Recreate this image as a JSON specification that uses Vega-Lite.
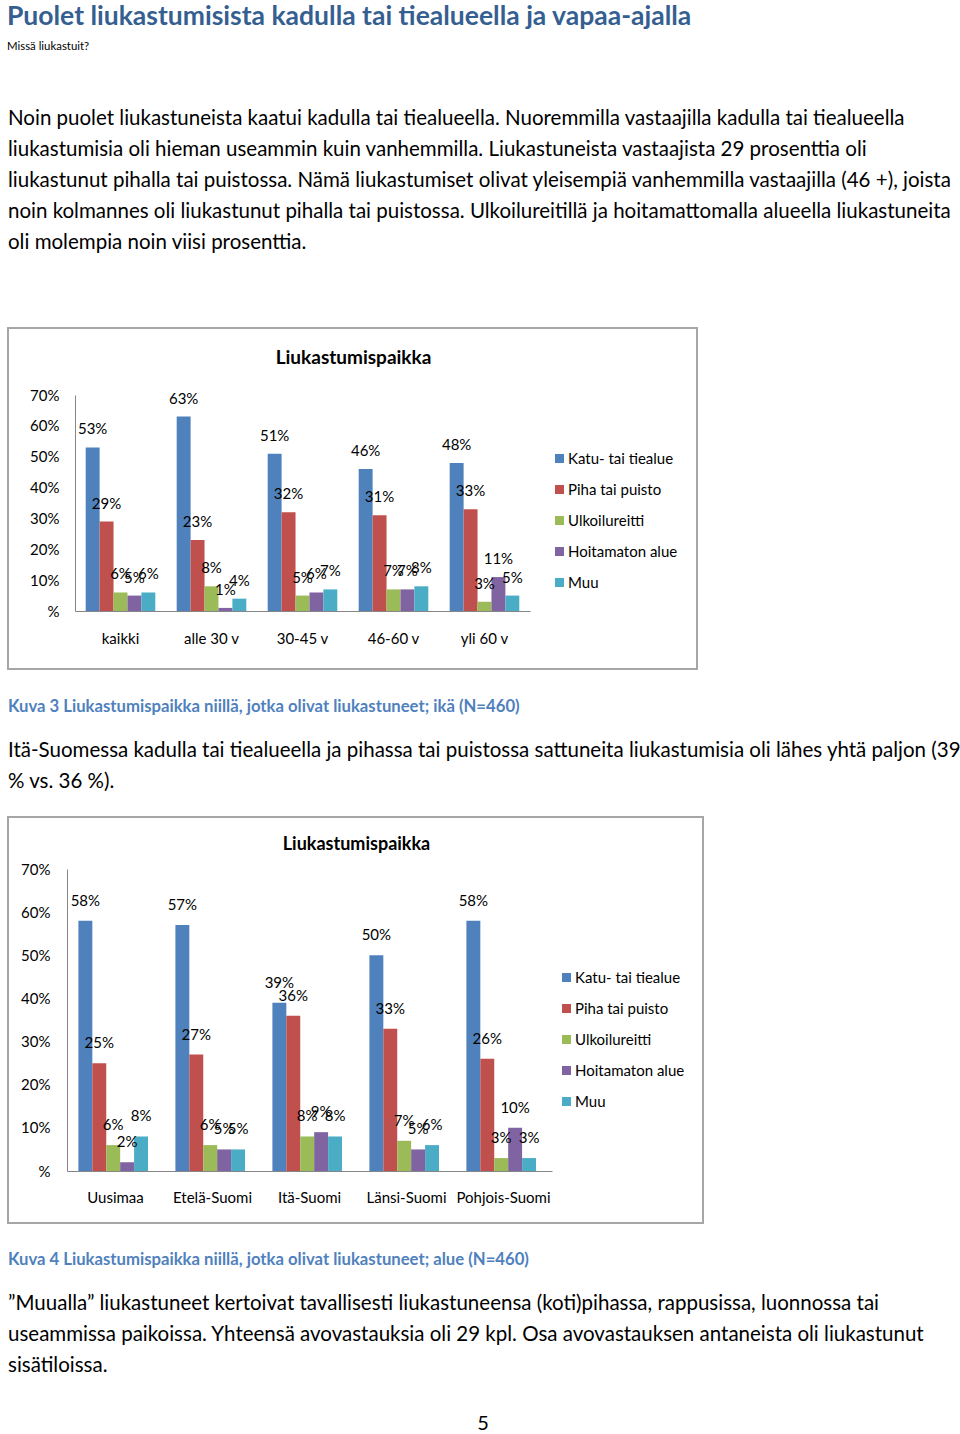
{
  "$schema": "https://vega.github.io/schema/vega-lite/v6.json",
  "background": "white",
  "padding": {"left": 7, "top": 3, "right": 0, "bottom": 0},
  "title": {
    "text": "Puolet liukastumisista kadulla tai tiealueella ja vapaa-ajalla",
    "subtitle": "Missä liukastuit?",
    "anchor": "start",
    "font": "Lato",
    "fontSize": 26.5,
    "fontWeight": "bold",
    "color": "#365F91",
    "subtitleFont": "Lato",
    "subtitleFontSize": 11.4,
    "subtitleColor": "#000000",
    "subtitlePadding": 11,
    "offset": 55
  },
  "config": {
    "view": {"stroke": "#a6a6a6", "strokeWidth": 2},
    "font": "Lato",
    "axis": {"labelFont": "Lato", "labelColor": "#000000", "grid": false, "ticks": false, "domainColor": "#868686", "labelFontSize": 15},
    "legend": {"labelFont": "Lato", "labelFontSize": 15, "labelColor": "#000000"},
    "text": {"font": "Lato"}
  },
  "resolve": {"scale": {"color": "independent"}, "legend": {"color": "independent"}},
  "spacing": 27,
  "vconcat": [
    {
      "title": {
        "text": [
          "Noin puolet liukastuneista kaatui kadulla tai tiealueella. Nuoremmilla vastaajilla kadulla tai tiealueella",
          "liukastumisia oli hieman useammin kuin vanhemmilla. Liukastuneista vastaajista 29 prosenttia oli",
          "liukastunut pihalla tai puistossa. Nämä liukastumiset olivat yleisempiä vanhemmilla vastaajilla (46 +), joista",
          "noin kolmannes oli liukastunut pihalla tai puistossa. Ulkoilureitillä ja hoitamattomalla alueella liukastuneita",
          "oli molempia noin viisi prosenttia."
        ],
        "anchor": "start",
        "font": "Lato",
        "fontSize": 20.5,
        "fontWeight": "normal",
        "color": "#000000",
        "lineHeight": 31,
        "offset": 75
      },
      "width": 689,
      "height": 341,
      "data": {"values": [
        {"ryhma": "kaikki", "paikka": "Katu- tai tiealue", "osuus": 0.53},
        {"ryhma": "kaikki", "paikka": "Piha tai puisto", "osuus": 0.29},
        {"ryhma": "kaikki", "paikka": "Ulkoilureitti", "osuus": 0.06},
        {"ryhma": "kaikki", "paikka": "Hoitamaton alue", "osuus": 0.05},
        {"ryhma": "kaikki", "paikka": "Muu", "osuus": 0.06},
        {"ryhma": "alle 30 v", "paikka": "Katu- tai tiealue", "osuus": 0.63},
        {"ryhma": "alle 30 v", "paikka": "Piha tai puisto", "osuus": 0.23},
        {"ryhma": "alle 30 v", "paikka": "Ulkoilureitti", "osuus": 0.08},
        {"ryhma": "alle 30 v", "paikka": "Hoitamaton alue", "osuus": 0.01},
        {"ryhma": "alle 30 v", "paikka": "Muu", "osuus": 0.04},
        {"ryhma": "30-45 v", "paikka": "Katu- tai tiealue", "osuus": 0.51},
        {"ryhma": "30-45 v", "paikka": "Piha tai puisto", "osuus": 0.32},
        {"ryhma": "30-45 v", "paikka": "Ulkoilureitti", "osuus": 0.05},
        {"ryhma": "30-45 v", "paikka": "Hoitamaton alue", "osuus": 0.06},
        {"ryhma": "30-45 v", "paikka": "Muu", "osuus": 0.07},
        {"ryhma": "46-60 v", "paikka": "Katu- tai tiealue", "osuus": 0.46},
        {"ryhma": "46-60 v", "paikka": "Piha tai puisto", "osuus": 0.31},
        {"ryhma": "46-60 v", "paikka": "Ulkoilureitti", "osuus": 0.07},
        {"ryhma": "46-60 v", "paikka": "Hoitamaton alue", "osuus": 0.07},
        {"ryhma": "46-60 v", "paikka": "Muu", "osuus": 0.08},
        {"ryhma": "yli 60 v", "paikka": "Katu- tai tiealue", "osuus": 0.48},
        {"ryhma": "yli 60 v", "paikka": "Piha tai puisto", "osuus": 0.33},
        {"ryhma": "yli 60 v", "paikka": "Ulkoilureitti", "osuus": 0.03},
        {"ryhma": "yli 60 v", "paikka": "Hoitamaton alue", "osuus": 0.11},
        {"ryhma": "yli 60 v", "paikka": "Muu", "osuus": 0.05}
      ]},
      "encoding": {
        "x": {
          "field": "ryhma", "type": "nominal",
          "sort": ["kaikki", "alle 30 v", "30-45 v", "46-60 v", "yli 60 v"],
          "scale": {"range": [67, 522], "paddingInner": 0.235, "paddingOuter": 0.1175},
          "axis": {"title": null, "orient": "bottom", "offset": -58, "labelPadding": 20, "labelAngle": 0}
        },
        "xOffset": {
          "field": "paikka", "type": "nominal",
          "sort": ["Katu- tai tiealue", "Piha tai puisto", "Ulkoilureitti", "Hoitamaton alue", "Muu"],
          "scale": {"paddingInner": 0, "paddingOuter": 0}
        },
        "y": {
          "field": "osuus", "type": "quantitative",
          "scale": {"domain": [0, 0.7], "range": [283, 67], "nice": false, "zero": true},
          "axis": {
            "title": "Liukastumispaikka", "titleAngle": 0, "titleX": 278, "titleY": 29,
            "titleBaseline": "middle", "titleAlign": "center", "titleFontSize": 19, "titleFontWeight": "bold", "titleFont": "Lato", "titleColor": "#000000",
            "offset": -67, "labelPadding": 16,
            "values": [0, 0.1, 0.2, 0.3, 0.4, 0.5, 0.6, 0.7],
            "labelExpr": "datum.value === 0 ? '%' : format(datum.value, '.0%')"
          }
        }
      },
      "layer": [
        {
          "mark": {"type": "bar"},
          "encoding": {
            "color": {
              "field": "paikka", "type": "nominal",
              "scale": {
                "domain": ["Katu- tai tiealue", "Piha tai puisto", "Ulkoilureitti", "Hoitamaton alue", "Muu"],
                "range": ["#4F81BD", "#C0504D", "#9BBB59", "#8064A2", "#4BACC6"]
              },
              "legend": {"title": null, "orient": "none", "legendX": 544, "legendY": 123, "symbolType": "square", "symbolSize": 81, "symbolStrokeWidth": 0, "rowPadding": 15, "labelOffset": 1, "padding": 0}
            }
          }
        },
        {
          "mark": {"type": "text", "baseline": "middle", "dy": -18, "fontSize": 15, "color": "#000000"},
          "encoding": {"text": {"field": "osuus", "type": "quantitative", "format": ".0%"}}
        }
      ]
    },
    {
      "title": {
        "text": "Kuva 3 Liukastumispaikka niillä, jotka olivat liukastuneet; ikä (N=460)",
        "subtitle": [
          "Itä-Suomessa kadulla tai tiealueella ja pihassa tai puistossa sattuneita liukastumisia oli lähes yhtä paljon (39",
          "% vs. 36 %)."
        ],
        "anchor": "start",
        "font": "Lato",
        "fontSize": 16.7,
        "fontWeight": "bold",
        "color": "#4F81BD",
        "subtitleFont": "Lato",
        "subtitleFontSize": 20.5,
        "subtitleColor": "#000000",
        "subtitleLineHeight": 31,
        "subtitlePadding": 25,
        "offset": 25
      },
      "width": 695,
      "height": 406,
      "data": {"values": [
        {"alue": "Uusimaa", "paikka": "Katu- tai tiealue", "osuus": 0.58},
        {"alue": "Uusimaa", "paikka": "Piha tai puisto", "osuus": 0.25},
        {"alue": "Uusimaa", "paikka": "Ulkoilureitti", "osuus": 0.06},
        {"alue": "Uusimaa", "paikka": "Hoitamaton alue", "osuus": 0.02},
        {"alue": "Uusimaa", "paikka": "Muu", "osuus": 0.08},
        {"alue": "Etelä-Suomi", "paikka": "Katu- tai tiealue", "osuus": 0.57},
        {"alue": "Etelä-Suomi", "paikka": "Piha tai puisto", "osuus": 0.27},
        {"alue": "Etelä-Suomi", "paikka": "Ulkoilureitti", "osuus": 0.06},
        {"alue": "Etelä-Suomi", "paikka": "Hoitamaton alue", "osuus": 0.05},
        {"alue": "Etelä-Suomi", "paikka": "Muu", "osuus": 0.05},
        {"alue": "Itä-Suomi", "paikka": "Katu- tai tiealue", "osuus": 0.39},
        {"alue": "Itä-Suomi", "paikka": "Piha tai puisto", "osuus": 0.36},
        {"alue": "Itä-Suomi", "paikka": "Ulkoilureitti", "osuus": 0.08},
        {"alue": "Itä-Suomi", "paikka": "Hoitamaton alue", "osuus": 0.09},
        {"alue": "Itä-Suomi", "paikka": "Muu", "osuus": 0.08},
        {"alue": "Länsi-Suomi", "paikka": "Katu- tai tiealue", "osuus": 0.50},
        {"alue": "Länsi-Suomi", "paikka": "Piha tai puisto", "osuus": 0.33},
        {"alue": "Länsi-Suomi", "paikka": "Ulkoilureitti", "osuus": 0.07},
        {"alue": "Länsi-Suomi", "paikka": "Hoitamaton alue", "osuus": 0.05},
        {"alue": "Länsi-Suomi", "paikka": "Muu", "osuus": 0.06},
        {"alue": "Pohjois-Suomi", "paikka": "Katu- tai tiealue", "osuus": 0.58},
        {"alue": "Pohjois-Suomi", "paikka": "Piha tai puisto", "osuus": 0.26},
        {"alue": "Pohjois-Suomi", "paikka": "Ulkoilureitti", "osuus": 0.03},
        {"alue": "Pohjois-Suomi", "paikka": "Hoitamaton alue", "osuus": 0.10},
        {"alue": "Pohjois-Suomi", "paikka": "Muu", "osuus": 0.03}
      ]},
      "encoding": {
        "x": {
          "field": "alue", "type": "nominal",
          "sort": ["Uusimaa", "Etelä-Suomi", "Itä-Suomi", "Länsi-Suomi", "Pohjois-Suomi"],
          "scale": {"range": [59, 544], "paddingInner": 0.235, "paddingOuter": 0.1175},
          "axis": {"title": null, "orient": "bottom", "offset": -52, "labelPadding": 19, "labelAngle": 0}
        },
        "xOffset": {
          "field": "paikka", "type": "nominal",
          "sort": ["Katu- tai tiealue", "Piha tai puisto", "Ulkoilureitti", "Hoitamaton alue", "Muu"],
          "scale": {"paddingInner": 0, "paddingOuter": 0}
        },
        "y": {
          "field": "osuus", "type": "quantitative",
          "scale": {"domain": [0, 0.7], "range": [354, 52], "nice": false, "zero": true},
          "axis": {
            "title": "Liukastumispaikka", "titleAngle": 0, "titleX": 289, "titleY": 27,
            "titleBaseline": "middle", "titleAlign": "center", "titleFontSize": 18, "titleFontWeight": "bold", "titleFont": "Lato", "titleColor": "#000000",
            "offset": -59, "labelPadding": 17,
            "values": [0, 0.1, 0.2, 0.3, 0.4, 0.5, 0.6, 0.7],
            "labelExpr": "datum.value === 0 ? '%' : format(datum.value, '.0%')"
          }
        }
      },
      "layer": [
        {
          "mark": {"type": "bar"},
          "encoding": {
            "color": {
              "field": "paikka", "type": "nominal",
              "scale": {
                "domain": ["Katu- tai tiealue", "Piha tai puisto", "Ulkoilureitti", "Hoitamaton alue", "Muu"],
                "range": ["#4F81BD", "#C0504D", "#9BBB59", "#8064A2", "#4BACC6"]
              },
              "legend": {"title": null, "orient": "none", "legendX": 551, "legendY": 153, "symbolType": "square", "symbolSize": 81, "symbolStrokeWidth": 0, "rowPadding": 15, "labelOffset": 1, "padding": 0}
            }
          }
        },
        {
          "mark": {"type": "text", "baseline": "middle", "dy": -20, "fontSize": 15, "color": "#000000"},
          "encoding": {"text": {"field": "osuus", "type": "quantitative", "format": ".0%"}}
        }
      ]
    },
    {
      "title": {
        "text": "Kuva 4 Liukastumispaikka niillä, jotka olivat liukastuneet; alue (N=460)",
        "subtitle": [
          "”Muualla” liukastuneet kertoivat tavallisesti liukastuneensa (koti)pihassa, rappusissa, luonnossa tai",
          "useammissa paikoissa. Yhteensä avovastauksia oli 29 kpl. Osa avovastauksen antaneista oli liukastunut",
          "sisätiloissa."
        ],
        "anchor": "start",
        "font": "Lato",
        "fontSize": 16.7,
        "fontWeight": "bold",
        "color": "#4F81BD",
        "subtitleFont": "Lato",
        "subtitleFontSize": 20.5,
        "subtitleColor": "#000000",
        "subtitleLineHeight": 31,
        "subtitlePadding": 25,
        "offset": 30
      },
      "view": {"stroke": null},
      "width": 950,
      "height": 36,
      "data": {"values": [{"sivu": "5"}]},
      "mark": {"type": "text", "fontSize": 20, "color": "#000000", "baseline": "middle"},
      "encoding": {"text": {"field": "sivu", "type": "nominal"}}
    }
  ]
}
